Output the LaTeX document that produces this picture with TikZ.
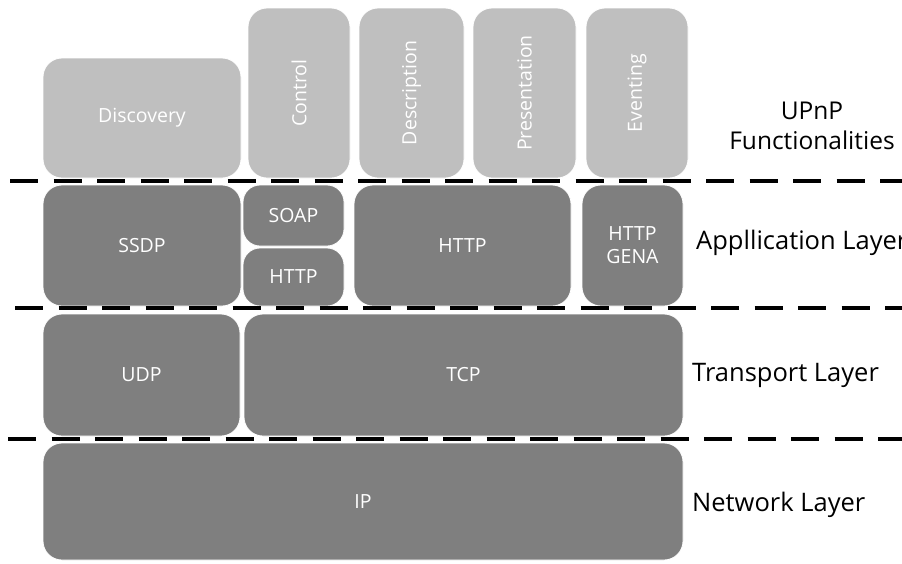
\documentclass[tikz,border=0pt]{standalone}
\usepackage{fontspec}
\setmainfont{Open Sans}
\definecolor{funcgray}{HTML}{BFBFBF}
\definecolor{layergray}{HTML}{7F7F7F}
\begin{document}
\begin{tikzpicture}[x=1pt,y=-1pt,
  block/.style={rectangle, rounded corners=19pt, draw=white, line width=0.8pt,
    text=white, inner sep=0pt, align=center,
    font=\fontsize{19.5}{23}\selectfont},
  func/.style={block, fill=funcgray},
  proto/.style={block, fill=layergray},
  vfunc/.style={func, rotate=90},
  sep/.style={black, line width=3.6pt, dash pattern=on 28pt off 15.5pt},
  lab/.style={text=black, inner sep=0pt, font=\fontsize{25.5}{30}\selectfont}]
\useasboundingbox (0,0) rectangle (902,563);

% UPnP functionalities
\node[func, minimum width=198pt, minimum height=120pt] (disc) at (142,118) {Discovery};
\node[vfunc, minimum width=170pt, minimum height=102pt] (ctrl) at (299,93) {Control};
\node[vfunc, minimum width=170pt, minimum height=105pt] (desc) at (411.5,93) {Description};
\node[vfunc, minimum width=170pt, minimum height=103pt] (pres) at (524.5,93) {Presentation};
\node[vfunc, minimum width=170pt, minimum height=102pt] (evnt) at (637,93) {Eventing};

% Application layer
\node[proto, minimum width=198pt, minimum height=121pt] (ssdp) at (142,245.5) {SSDP};
\node[proto, minimum width=101pt, minimum height=61pt, rounded corners=17pt] (soap) at (293.5,215.5) {SOAP};
\node[proto, minimum width=101pt, minimum height=58pt, rounded corners=17pt] (httpa) at (293.5,277) {HTTP};
\node[proto, minimum width=217pt, minimum height=121pt] (httpb) at (462.5,245.5) {HTTP};
\node[proto, minimum width=101pt, minimum height=121pt] (gena) at (632.5,245.5) {HTTP\\GENA};

% Transport layer
\node[proto, minimum width=197pt, minimum height=122pt] (udp) at (141.5,375) {UDP};
\node[proto, minimum width=439pt, minimum height=122pt] (tcp) at (463.5,375) {TCP};

% Network layer
\node[proto, minimum width=640pt, minimum height=117pt] (ip) at (363,501.5) {IP};

% layer separators
\draw[sep] (10,181) -- (910,181);
\draw[sep] (15,308) -- (910,308);
\draw[sep] (8,439) -- (910,439);

% layer names
\node[lab, align=center, font=\fontsize{24.5}{30}\selectfont] (lupnp) at (812,126) {UPnP\\Functionalities};
\node[lab, anchor=west] (lapp) at (696,243) {Appllication Layer};
\node[lab, anchor=west] (ltrans) at (692,375) {Transport Layer};
\node[lab, anchor=west] (lnet) at (692,505) {Network Layer};
\end{tikzpicture}
\end{document}
